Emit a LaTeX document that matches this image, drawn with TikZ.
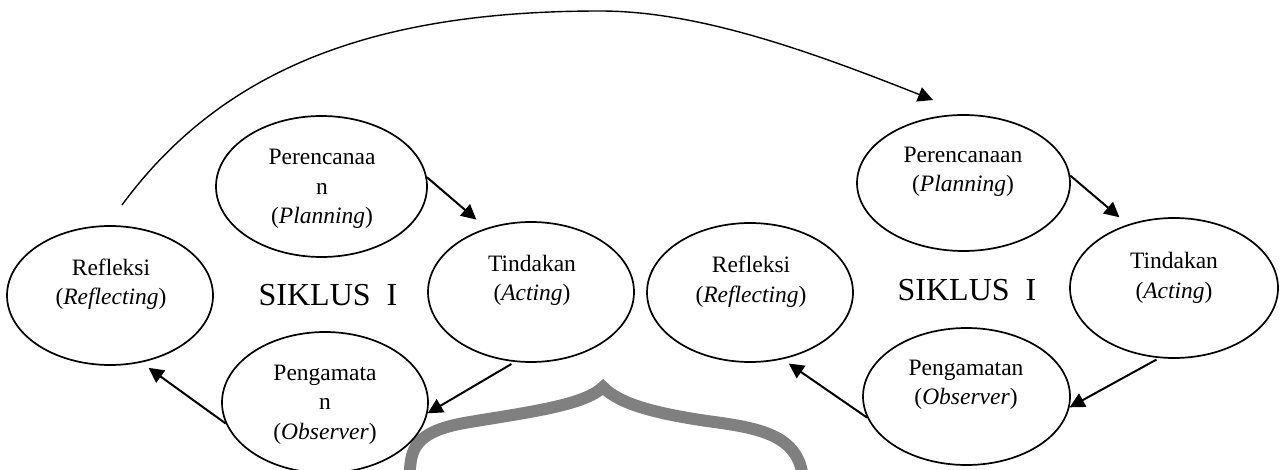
\documentclass[tikz,border=0pt]{standalone}
\usepackage{fontspec}
\setmainfont{Liberation Serif}
\usetikzlibrary{arrows.meta,shapes.geometric,calc,bending}
\definecolor{wmgray}{RGB}{128,128,128}
\tikzset{
  ell/.style={ellipse, draw, line width=1.7pt, inner sep=0pt},
  lbl/.style={align=center, font=\fontsize{23.5}{29.5}\selectfont, inner sep=0pt},
  big/.style={font=\fontsize{32}{38}\selectfont, inner sep=0pt},
  arr/.style={-{Triangle[length=15pt,width=15pt]}, line width=2pt},
  curv/.style={-{Triangle[length=15pt,width=15pt]}, line width=1.4pt},
  wm/.style={line width=12pt, draw=wmgray, line join=miter, miter limit=10}
}
\begin{document}
\begin{tikzpicture}[x=1pt,y=-1pt]
\useasboundingbox (0,0) rectangle (1285,470);
% watermark frame (background)
\draw[wm] (409,480) -- (410,470) .. controls (411,445) and (420,430) .. (470,422)
  .. controls (530,412) and (585,405) .. (603,387)
  .. controls (620,405) and (660,414) .. (707,421)
  .. controls (760,428) and (800,435) .. (803,480);
% cycle 1
\node[ell, minimum width=206pt, minimum height=139pt] (r1) at (110,295.5) {};
\node[ell, minimum width=211pt, minimum height=141pt] (p1) at (321.5,186.5) {};
\node[ell, minimum width=206pt, minimum height=140pt] (t1) at (531,292) {};
\node[ell, minimum width=206pt, minimum height=141pt] (g1) at (325,402.5) {};
\node[lbl] (r1t) at (111,284) {Refleksi\\(\textit{Reflecting})};
\node[lbl] (p1t) at (322,189) {Perencanaa\\n\\(\textit{Planning})};
\node[lbl] (t1t) at (532,280.5) {Tindakan\\(\textit{Acting})};
\node[lbl] (g1t) at (325,404.5) {Pengamata\\n\\(\textit{Observer})};
\node[big] (s1) at (328,295) {SIKLUS\ \ I};
% cycle 2
\node[ell, minimum width=206pt, minimum height=139pt] (r2) at (750,292.5) {};
\node[ell, minimum width=213pt, minimum height=136pt] (p2) at (963.5,183) {};
\node[ell, minimum width=208pt, minimum height=140pt] (t2) at (1174,288) {};
\node[ell, minimum width=207pt, minimum height=137pt] (g2) at (966.5,396.5) {};
\node[lbl] (r2t) at (751,281.5) {Refleksi\\(\textit{Reflecting})};
\node[lbl] (p2t) at (963,172) {Perencanaan\\(\textit{Planning})};
\node[lbl] (t2t) at (1174,278) {Tindakan\\(\textit{Acting})};
\node[lbl] (g2t) at (966,385) {Pengamatan\\(\textit{Observer})};
\node[big] (s2) at (967,290) {SIKLUS\ \ I};
% arrows cycle 1
\draw[arr, shorten >=13pt] (p1.5) -- (t1.125);
\draw[arr, shorten <=4pt] (t1.257) -- (g1.-6);
\draw[arr, shorten >=9pt] (g1.192) -- (r1.-65);
% arrows cycle 2
\draw[arr, shorten >=11pt] (p2.4) -- (t2.126);
\draw[arr, shorten <=3pt] (t2.258) -- (g2.-6);
\draw[arr, shorten >=7.5pt] (g2.192) -- (r2.-64);
% long curve from cycle 1 to cycle 2
\coordinate (cs) at (122,205);
\coordinate (ctop) at (600,11);
\coordinate (ce) at (933,100);
\draw[curv] (cs) .. controls (225,65) and (380,11) .. (ctop)
  .. controls (700,11) and (813,52) .. (ce);
\end{tikzpicture}
\end{document}
